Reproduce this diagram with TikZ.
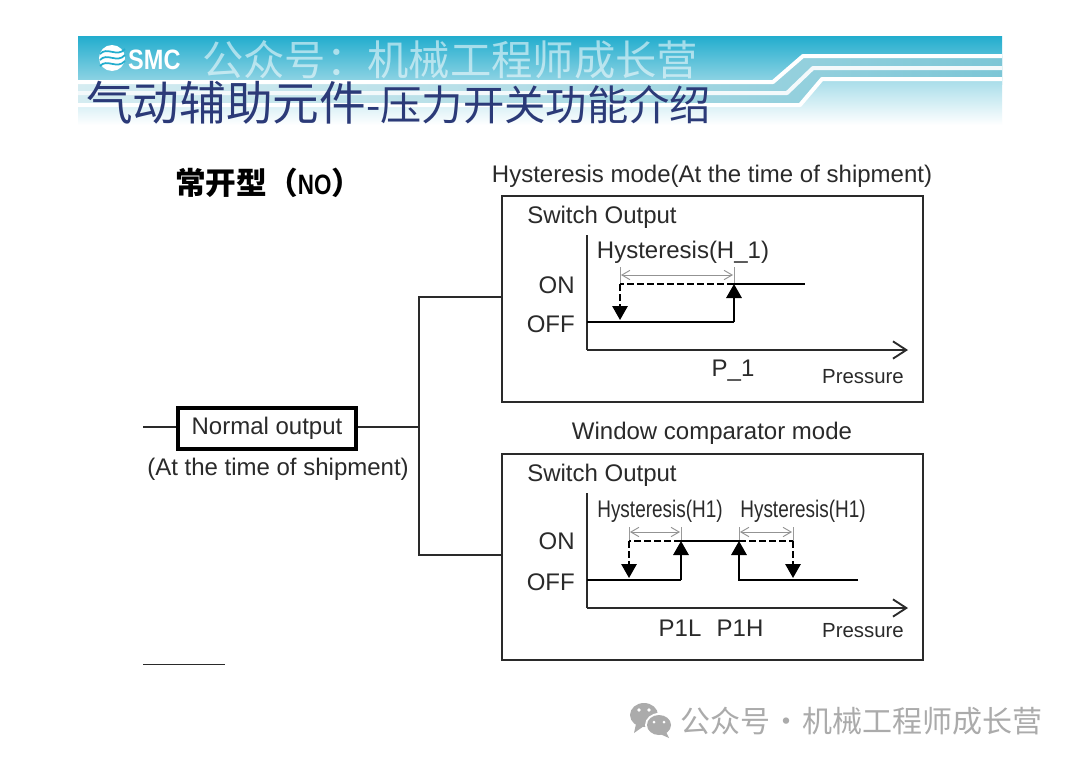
\documentclass[tikz,border=0pt]{standalone}
\usepackage{fontspec}
\usetikzlibrary{arrows.meta}
\setmainfont{Liberation Sans}
\newfontfamily\cjk{Noto Sans CJK SC}
\definecolor{ink}{HTML}{2A2A2A}
\definecolor{navy}{HTML}{2B3A78}
\definecolor{bantop}{HTML}{22ADCE}
\definecolor{banmid}{HTML}{96D6E5}
\definecolor{bandr}{HTML}{7CC6D6}
\definecolor{bandl}{HTML}{D5ECF1}
\definecolor{wm}{HTML}{ABABAB}
\tikzset{
  lbl/.style={inner sep=0pt,text=ink,font=\fontsize{18pt}{20pt}\selectfont},
  sm/.style={inner sep=0pt,text=ink,font=\fontsize{15.3pt}{19pt}\selectfont},
  chartbox/.style={draw=ink,line width=1.5pt,fill=white,inner sep=0pt,outer sep=0pt,anchor=north west},
  wire/.style={draw=ink,line width=1.3pt},
  sig/.style={draw=black,line width=1.6pt},
  sigd/.style={draw=black,line width=1.4pt,dash pattern=on 5pt off 2.5pt},
  axis/.style={draw=ink,line width=1.5pt},
  axisarrow/.style={axis,-{Straight Barb[length=10pt,width=13pt,line width=1.4pt]}},
  up/.style={sig,-{Triangle[length=10.5pt,width=11.5pt]}},
  updash/.style={sigd,-{Triangle[length=10.5pt,width=11.5pt]}},
  hyarrow/.style={draw=gray!85,line width=.7pt,{Straight Barb[length=6pt,width=7pt]}-{Straight Barb[length=6pt,width=7pt]}},
  htick/.style={draw=gray!80,line width=.7pt},
  strip/.style={draw=white,line width=3pt,line join=round},
}
\begin{document}
\begin{tikzpicture}[x=0.75pt,y=-0.75pt]
\useasboundingbox[fill=white] (0,0) rectangle (1080,764);
% banner
\shade[top color=bantop,bottom color=banmid] (78,36) rectangle (1002,84);
\shade[left color=bandl,right color=bandr,middle color=bandl!60!bandr]
  (78,82) -- (773,82) -- (803,56) -- (1002,56) -- (1002,79) -- (822,79) -- (800,105) -- (78,105) -- cycle;
\shade[top color=banmid!85!white,bottom color=white]
  (78,105) -- (800,105) -- (822,79) -- (1002,79) -- (1002,125) -- (78,125) -- cycle;
\draw[strip] (78,82) -- (773,82) -- (803,56) -- (1002,56);
\draw[strip,white!70!bandl] (78,93) -- (787,93) -- (813,68) -- (1002,68);
\draw[strip] (78,105) -- (800,105) -- (822,79) -- (1002,79);
% logo
\fill[white] (112,58) circle[radius=13];
\foreach \d in {-6,0,6}{
  \draw[bantop,line width=1.3pt] (100,58+\d+2) .. controls (107,58+\d-6) and (117,58+\d+6) .. (125,58+\d-3);
}
\node[inner sep=0pt,anchor=west,text=white,xscale=.84,font=\bfseries\fontsize{21pt}{23pt}\selectfont] (smc) at (128,60) {SMC};
\node[inner sep=0pt,anchor=west,text=white,opacity=.55,font=\cjk\fontsize{31pt}{34pt}\selectfont] (wmtop) at (202,60) {公众号：机械工程师成长营};
\node[inner sep=0pt,anchor=base west,text=navy] (title) at (86,120) {\cjk\fontsize{35pt}{38pt}\selectfont 气动辅助元件\fontsize{31pt}{34pt}\selectfont -压力开关功能介绍};
% heading
\node[inner sep=0pt,anchor=west,text=black,font=\cjk\bfseries\fontsize{23pt}{26pt}\selectfont] (no) at (175,183) {常开型（\scalebox{.8}[1]{\rmfamily\bfseries\fontsize{21pt}{24pt}\selectfont NO}）};
% top labels
\node[lbl,anchor=center] (hm) at (712,176) {Hysteresis mode(At the time of shipment)};
\node[lbl,anchor=center] (wc) at (712,433) {Window comparator mode};
% boxes
\node[chartbox,minimum width=421*0.75pt,minimum height=206*0.75pt] (hyst) at (502,196) {};
\node[chartbox,minimum width=421*0.75pt,minimum height=206*0.75pt] (wind) at (502,454) {};
% left part
\node[draw=black,line width=2.7pt,fill=white,minimum width=178*0.75pt,minimum height=41*0.75pt,inner sep=0pt,lbl] (norm) at (267,428.5) {\raisebox{-1.2pt}{Normal output}};
\node[lbl,anchor=center] (ship) at (278,469) {(At the time of shipment)};
\coordinate (inp) at (143,427);
\coordinate (junc) at (419,427);
\coordinate (ja) at (419,297);
\coordinate (jb) at (419,555);
\coordinate (ha) at (502,297);
\coordinate (hb) at (502,555);
\draw[wire] (inp) -- (inp -| norm.west);
\draw[wire] (norm.east |- junc) -- (junc);
\draw[wire] (ha) -- (ja) -- (jb) -- (hb);
\draw[draw=ink,line width=.6pt] (143,664) -- (225,664);
% hysteresis chart
\node[lbl,anchor=west] (s1) at (527,217) {Switch Output};
\draw[axis] (587,235) -- (587,350);
\draw[axisarrow] (587,350) -- (908,350);
\node[lbl,anchor=east] (on1) at (575,285) {ON};
\node[lbl,anchor=east] (off1) at (575,324) {OFF};
\node[lbl,anchor=center] (h1) at (683,252) {Hysteresis(H\_1)};
\draw[htick] (620,267) -- (620,284);
\draw[htick] (734,267) -- (734,284);
\draw[hyarrow] (621,275) -- (733,275);
\draw[sig] (587,322) -- (734,322);
\draw[up] (734,322) -- (734,284);
\draw[sig] (734,284) -- (805,284);
\draw[sigd] (734,284) -- (620,284);
\draw[updash] (620,284) -- (620,320);
\node[lbl,anchor=center] (p1) at (733,371) {P\_1};
\node[sm,anchor=center] (pr1) at (863,377) {Pressure};
% window chart
\node[lbl,anchor=west] (s2) at (527,475) {Switch Output};
\draw[axis] (587,493) -- (587,608);
\draw[axisarrow] (587,608) -- (908,608);
\node[lbl,anchor=east] (on2) at (575,541) {ON};
\node[lbl,anchor=east] (off2) at (575,582) {OFF};
\node[lbl,anchor=center,xscale=.79] (h2) at (660,511) {Hysteresis(H1)};
\node[lbl,anchor=center,xscale=.79] (h3) at (803,511) {Hysteresis(H1)};
\foreach \x in {629,681,739,793}{\draw[htick] (\x,527) -- (\x,541);}
\draw[hyarrow] (630,532) -- (680,532);
\draw[hyarrow] (740,532) -- (792,532);
\draw[sig] (587,580) -- (681,580);
\draw[up] (681,580) -- (681,541);
\draw[sig] (681,541) -- (739,541);
\draw[up] (858,580) -- (739,580) -- (739,541);
\draw[sigd] (681,541) -- (629,541);
\draw[updash] (629,541) -- (629,578);
\draw[sigd] (739,541) -- (793,541);
\draw[updash] (793,541) -- (793,578);
\node[lbl,anchor=center] (pl) at (680,628) {P1L};
\node[lbl,anchor=center] (ph) at (740,628) {P1H};
\node[sm,anchor=center] (pr2) at (863,631) {Pressure};
% watermark
\fill[wm] (644,715) ellipse[x radius=14,y radius=12];
\fill[wm] (636,724) -- (634,733) -- (644,726) -- cycle;
\fill[white] (659,725) ellipse[x radius=14,y radius=12];
\fill[wm] (659,725) ellipse[x radius=12,y radius=10];
\fill[wm] (666,732) -- (669,738) -- (660,734) -- cycle;
\fill[white] (639,710) circle[radius=1.8];
\fill[white] (649,710) circle[radius=1.8];
\fill[white] (654,722) circle[radius=1.5];
\fill[white] (664,722) circle[radius=1.5];
\node[inner sep=0pt,anchor=west,text=wm,font=\cjk\fontsize{22.5pt}{25pt}\selectfont] (wmark) at (680,721) {\spaceskip=1pt 公众号 · 机械工程师成长营};
\end{tikzpicture}
\end{document}
